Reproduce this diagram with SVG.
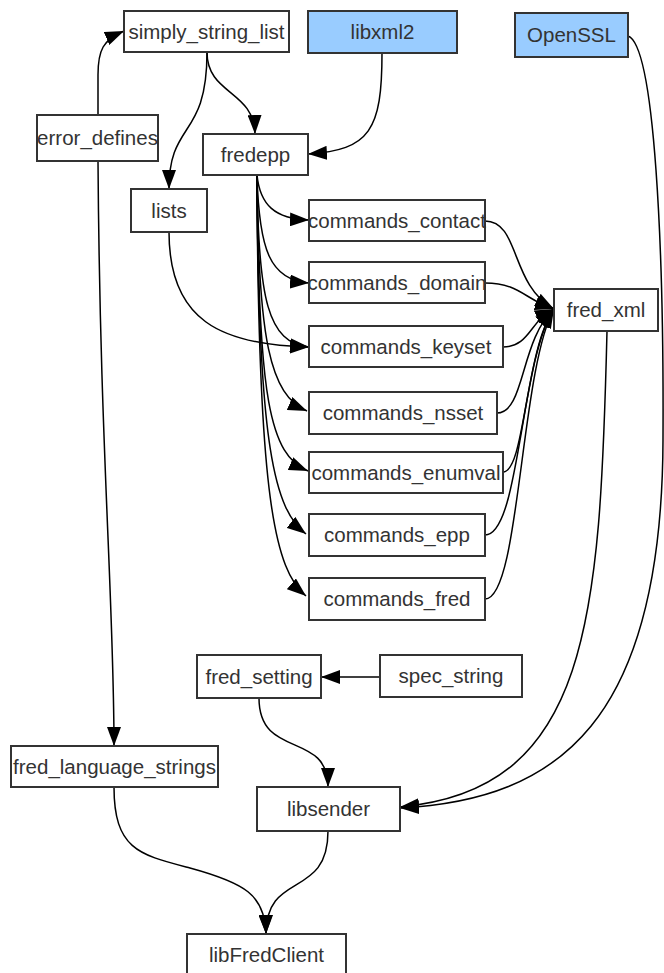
<svg xmlns="http://www.w3.org/2000/svg" width="664" height="973" viewBox="0 0 664 973">
<style>
.n rect{fill:#ffffff;stroke:#333333;stroke-width:2}
.n.ext rect{fill:#99ccff}
.n text{font-family:"Liberation Sans",Arial,sans-serif;font-size:20.5px;fill:#333333;text-anchor:middle}
#edges path{fill:none;stroke:#000000;stroke-width:1.5;marker-end:url(#a)}
</style>
<defs>
<marker id="a" markerUnits="userSpaceOnUse" markerWidth="19" markerHeight="14" viewBox="0 0 19 14" refX="19" refY="7" orient="auto">
<path d="M0,0 L19,7 L0,14 z" fill="#000000"/>
</marker>
</defs>
<rect width="664" height="973" fill="#ffffff"/>
<g id="edges">
<path d="M98,115 L98,75 C98,50 103,40 124,31"/>
<path d="M98,161 C100,450 114,600 114,746"/>
<path d="M207,52 C207,95 254,90 255,134"/>
<path d="M207,52 C207,140 169,120 169,189"/>
<path d="M382,53 C382,130 370,150 308,154"/>
<path d="M257,175 C260,205 275,219 309,220"/>
<path d="M257,175 C259,250 270,280 309,283"/>
<path d="M257,175 C258,300 268,343 309,347"/>
<path d="M257,175 C258,340 270,395 307,411"/>
<path d="M257,175 C258,400 270,455 308,471"/>
<path d="M257,175 C258,450 275,510 306,534"/>
<path d="M257,175 C258,500 275,570 306,596"/>
<path d="M169,232 C169,320 220,345 309,347"/>
<path d="M485,221 C520,221 510,285 554,309"/>
<path d="M485,283 C520,283 525,300 554,309"/>
<path d="M503,347 C530,347 530,320 554,309"/>
<path d="M497,413 C525,413 520,340 554,309"/>
<path d="M503,472 C525,472 525,350 554,309"/>
<path d="M485,535 C520,535 520,360 554,309"/>
<path d="M485,599 C520,599 520,370 554,309"/>
<path d="M628,36 C655,45 664,250 663,440 C662,720 560,800 400,808"/>
<path d="M607,331 C600,620 590,790 400,807"/>
<path d="M380,677 L321,677"/>
<path d="M259,698 C259,760 328,730 328,787"/>
<path d="M114,787 C114,850 140,855 190,868 C245,883 265,895 266,934"/>
<path d="M328,831 C328,900 266,870 266,934"/>
</g>
<g id="simply_string_list" class="n"><rect x="124" y="11" width="165" height="41"/><text x="206.5" y="38.5">simply_string_list</text></g>
<g id="libxml2" class="n ext"><rect x="308" y="11" width="149" height="42"/><text x="382.5" y="39">libxml2</text></g>
<g id="OpenSSL" class="n ext"><rect x="515" y="13" width="113" height="44"/><text x="571.5" y="42">OpenSSL</text></g>
<g id="error_defines" class="n"><rect x="37" y="115" width="121" height="46"/><text x="97.5" y="145">error_defines</text></g>
<g id="fredepp" class="n"><rect x="203" y="134" width="105" height="41"/><text x="255.5" y="161.5">fredepp</text></g>
<g id="lists" class="n"><rect x="131" y="189" width="76" height="43"/><text x="169" y="217.5">lists</text></g>
<g id="commands_contact" class="n"><rect x="309" y="200" width="176" height="41"/><text x="397" y="227.5">commands_contact</text></g>
<g id="commands_domain" class="n"><rect x="309" y="262" width="176" height="41"/><text x="397" y="289.5">commands_domain</text></g>
<g id="commands_keyset" class="n"><rect x="309" y="326" width="194" height="41"/><text x="406" y="353.5">commands_keyset</text></g>
<g id="commands_nsset" class="n"><rect x="309" y="392" width="188" height="42"/><text x="403" y="420">commands_nsset</text></g>
<g id="fred_xml" class="n"><rect x="554" y="289" width="104" height="42"/><text x="606" y="317">fred_xml</text></g>
<g id="commands_enumval" class="n"><rect x="309" y="452" width="194" height="41"/><text x="406" y="479.5">commands_enumval</text></g>
<g id="commands_epp" class="n"><rect x="309" y="514" width="176" height="42"/><text x="397" y="542">commands_epp</text></g>
<g id="commands_fred" class="n"><rect x="309" y="578" width="176" height="42"/><text x="397" y="606">commands_fred</text></g>
<g id="fred_setting" class="n"><rect x="197" y="655" width="124" height="43"/><text x="259" y="683.5">fred_setting</text></g>
<g id="spec_string" class="n"><rect x="380" y="655" width="142" height="42"/><text x="451" y="683">spec_string</text></g>
<g id="fred_language_strings" class="n"><rect x="11" y="746" width="207" height="41"/><text x="114.5" y="773.5">fred_language_strings</text></g>
<g id="libsender" class="n"><rect x="257" y="787" width="143" height="44"/><text x="328.5" y="816">libsender</text></g>
<g id="libFredClient" class="n"><rect x="187" y="934" width="159" height="45"/><text x="266.5" y="962">libFredClient</text></g>
</svg>
